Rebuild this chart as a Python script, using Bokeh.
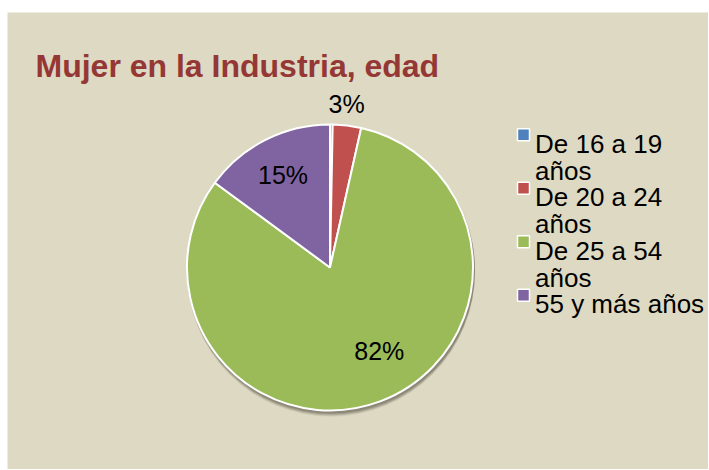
import numpy as np
from bokeh.plotting import figure
from bokeh.models import Range1d, ColumnDataSource, Spacer
from bokeh.layouts import column, row
from bokeh.core.properties import value
from bokeh.embed import file_html
from bokeh.resources import INLINE

title = "Mujer en la Industria, edad"
categories = ["De 16 a 19\naños", "De 20 a 24\naños", "De 25 a 54\naños", "55 y más años"]
values = [0.3, 3.2, 81.6, 14.9]
colors = ["#4F81BD", "#C0504D", "#9BBB59", "#8064A2"]
show_label = [False, True, True, True]

# label placement (style only)
label_radius = [0, 164, 97, 104]
label_shift_deg = [0, -1, -10, 0]

W, H = 701, 457
p = figure(width=W, height=H, output_backend="svg", toolbar_location=None,
           x_range=Range1d(0, W), y_range=Range1d(0, H), min_border=0)
p.axis.visible = False
p.grid.visible = False
p.outline_line_color = None
p.background_fill_color = "#DDD9C3"
p.border_fill_color = "#DDD9C3"

FONT = value("Liberation Sans")
cx, cy, R = 322.5, 202, 143
vals = np.array(values)
frac = vals / vals.sum()
cum = np.concatenate([[0], np.cumsum(frac)])
start = np.pi / 2 - 2 * np.pi * cum[:-1]
end = np.pi / 2 - 2 * np.pi * cum[1:]

# soft shadow
for dy, a in [(5, 0.12), (4, 0.18), (3, 0.25), (2, 0.3)]:
    p.circle(x=[cx + 1], y=[cy - dy], radius=R + 1, fill_color="#5e5b4c", fill_alpha=a, line_color=None)

src = ColumnDataSource(dict(start=start, end=end, color=colors))
p.wedge(x=cx, y=cy, radius=R, start_angle="start", end_angle="end", direction="clock",
        fill_color="color", line_color="white", line_width=2, source=src)

# percentage labels
mid = (cum[:-1] + cum[1:]) / 2 * 2 * np.pi
lx, ly, lt = [], [], []
for i in range(len(values)):
    if show_label[i]:
        a = mid[i] + np.deg2rad(label_shift_deg[i])
        lx.append(cx + label_radius[i] * np.sin(a))
        ly.append(cy + label_radius[i] * np.cos(a))
        lt.append(f"{round(frac[i] * 100):.0f}%")
p.text(x=lx, y=ly, text=lt, text_align="center", text_baseline="middle",
       text_font=FONT, text_font_size="25px", text_color="#000000")

# title
p.text(x=[28], y=[H - 53], text=[title], text_align="left", text_baseline="alphabetic",
       text_font=FONT, text_font_size="32px", text_font_style="bold",
       text_color="#953735")

# legend
lgx = 509.5
line_h = 26.75
base0 = H - (143.3 - 12)
sq_y = [base0 + 9 - i * 2 * line_h for i in range(len(categories))]
p.rect(x=[lgx + 6.5] * len(categories), y=sq_y, width=12, height=12, fill_color=colors,
       line_color="white", line_width=1.5)
tx, ty, tt = [], [], []
for i, lab in enumerate(categories):
    for j, part in enumerate(lab.split("\n")):
        tx.append(lgx + 18)
        ty.append(base0 - i * 2 * line_h - j * line_h)
        tt.append(part)
p.text(x=tx, y=ty, text=tt, text_align="left", text_baseline="alphabetic",
       text_font=FONT, text_font_size="26px", text_color="#000000")

layout = column(Spacer(height=12), row(Spacer(width=7), p))
open("out.html", "w").write(file_html(layout, INLINE))
